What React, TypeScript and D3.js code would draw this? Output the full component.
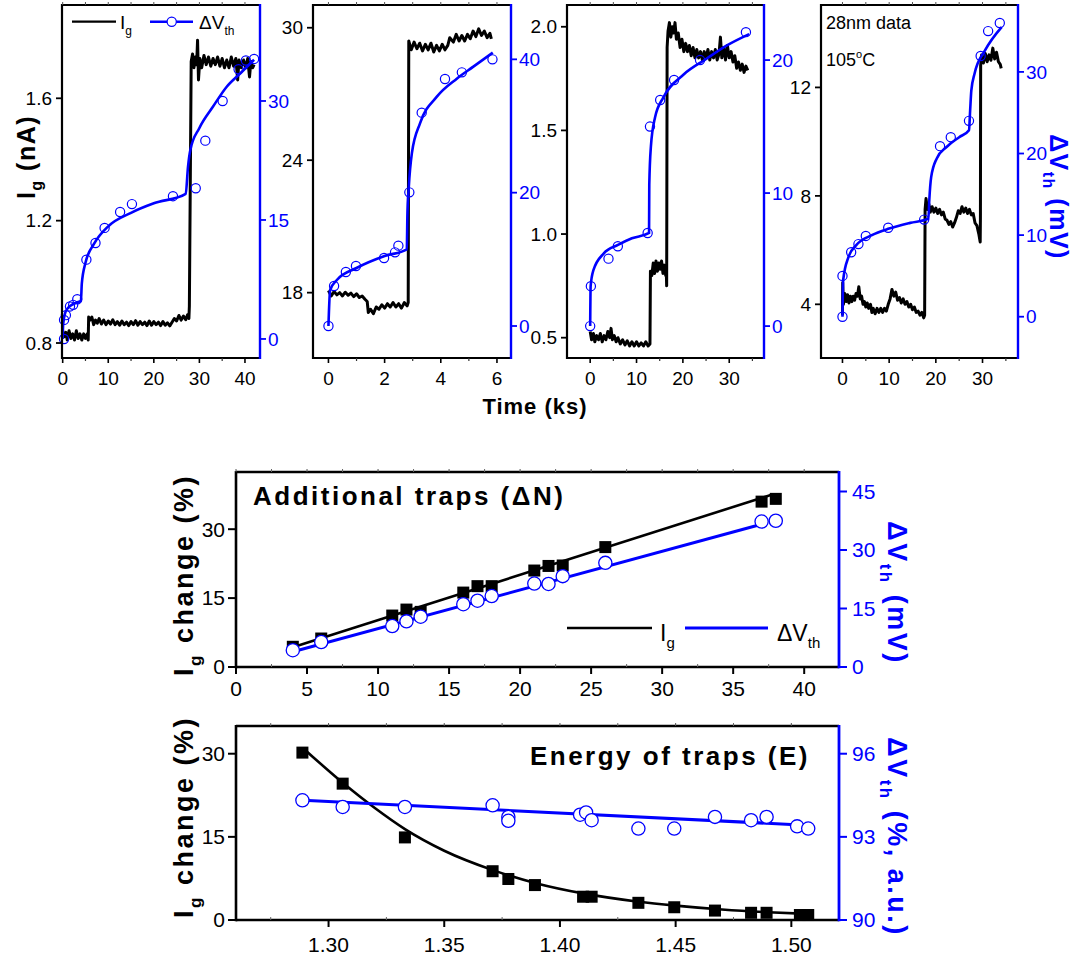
import React from "react";
import * as d3 from "d3";

type P = [number, number];

const FONT = "'Liberation Sans', Arial, Helvetica, sans-serif";
const BLUE = "#0000ff";

// ---------------- Top panels data ----------------
// Panel 1
const p1Ig: P[] = [
  [0, 0.84], [0.3, 0.82], [0.7, 0.835], [1.0, 0.81], [1.4, 0.84], [1.8, 0.815], [2.2, 0.83], [2.6, 0.81], [3.0, 0.84],
  [3.4, 0.815], [3.8, 0.83], [4.2, 0.81], [4.6, 0.83], [5.0, 0.815], [5.4, 0.83], [5.6, 0.81], [5.7, 0.885], [6.0, 0.875],
  [6.4, 0.885], [6.8, 0.86], [7.2, 0.875], [7.6, 0.865], [8.0, 0.88], [8.5, 0.862], [9.0, 0.875], [9.5, 0.86], [10, 0.872],
  [10.5, 0.862], [11, 0.876], [11.5, 0.86], [12, 0.87], [12.5, 0.858], [13, 0.872], [13.5, 0.86], [14, 0.868], [14.5, 0.857],
  [15, 0.87], [15.5, 0.86], [16, 0.873], [16.5, 0.858], [17, 0.87], [17.5, 0.86], [18, 0.868], [18.5, 0.857], [19, 0.872],
  [19.5, 0.858], [20, 0.87], [20.5, 0.86], [21, 0.868], [21.5, 0.857], [22, 0.87], [22.5, 0.858], [23, 0.866], [23.5, 0.856],
  [24, 0.868], [24.5, 0.88], [25, 0.872], [25.5, 0.89], [26, 0.875], [26.5, 0.888], [27, 0.876], [27.4, 0.892], [27.7, 0.88],
  [27.8, 0.92], [28.2, 1.72], [28.5, 1.745], [28.8, 1.7], [29.1, 1.735], [29.4, 1.71], [29.6, 1.79], [29.8, 1.66], [30.1, 1.73],
  [30.5, 1.7], [31, 1.74], [31.5, 1.71], [32, 1.735], [32.5, 1.705], [33, 1.73], [33.5, 1.71], [34, 1.735], [34.5, 1.705],
  [35, 1.73], [35.5, 1.7], [36, 1.725], [36.5, 1.7], [37, 1.735], [37.5, 1.705], [38, 1.73], [38.4, 1.66], [38.7, 1.725],
  [39.2, 1.7], [39.7, 1.725], [40.2, 1.7], [40.6, 1.73], [41, 1.67], [41.3, 1.72], [41.7, 1.7], [42, 1.71],
];
const p1VthFit: P[] = [
  [0, 0], [0.1, 1.8], [0.5, 3.2], [1, 3.8], [2, 4.3], [3, 4.6], [4, 4.8], [4.2, 7.0], [5, 9.6], [7, 12.1], [10, 14.2],
  [15, 15.9], [20, 17.1], [27, 18.3], [27.5, 21.7], [28, 23.8], [30, 26.6], [33, 29.3], [36, 31.8], [39, 33.5], [42, 35.2],
];
const p1VthPts: P[] = [
  [0.3, 0], [0.3, 2.4], [0.7, 3.0], [1.6, 4.1], [2.3, 4.3], [3.2, 5.0], [5.2, 10.0], [7.2, 12.1], [9.2, 14.0], [12.6, 16.0],
  [15.2, 17.0], [24.2, 18.0], [29.2, 19.0], [31.3, 25.0], [35.1, 30.0], [38.6, 34.0], [40.2, 35.1], [42.0, 35.3],
];
const p1TimeTicks = [0, 10, 20, 30, 40];
const p1TimeMinor = [5, 15, 25, 35];
const p1IgTicks = [0.8, 1.2, 1.6];
const p1VthTicks = [0, 15, 30];

// Panel 2
const p2Ig: P[] = [
  [0, 18.1], [0.1, 17.85], [0.2, 18.05], [0.3, 17.9], [0.4, 18.0], [0.5, 17.85], [0.6, 18.02], [0.7, 17.88], [0.8, 17.98],
  [0.9, 17.82], [1.0, 17.95], [1.1, 17.78], [1.2, 17.85], [1.3, 17.7], [1.38, 17.6], [1.42, 17.1], [1.5, 17.25], [1.6, 17.05],
  [1.7, 17.35], [1.8, 17.25], [1.9, 17.45], [2.0, 17.3], [2.1, 17.5], [2.2, 17.35], [2.3, 17.55], [2.4, 17.35], [2.5, 17.5],
  [2.6, 17.3], [2.7, 17.55], [2.8, 17.4], [2.84, 17.55], [2.86, 29.4], [2.95, 29.0], [3.05, 29.35], [3.15, 29.05], [3.25, 29.3],
  [3.35, 28.95], [3.45, 29.25], [3.55, 29.0], [3.65, 29.3], [3.75, 28.9], [3.85, 29.2], [3.95, 28.95], [4.05, 29.25],
  [4.15, 29.0], [4.25, 29.2], [4.32, 29.55], [4.45, 29.35], [4.55, 29.7], [4.65, 29.4], [4.75, 29.65], [4.85, 29.4],
  [4.95, 29.7], [5.05, 29.5], [5.15, 29.85], [5.25, 29.6], [5.35, 29.95], [5.45, 29.65], [5.55, 29.85], [5.65, 29.55],
  [5.75, 29.75], [5.8, 29.5],
];
const p2VthFit: P[] = [
  [0, 0], [0.06, 5.4], [0.3, 6.9], [1, 8.7], [2, 10.5], [2.79, 11.5], [2.81, 16.4], [2.86, 20.8], [2.97, 25.9], [3.26, 30.4],
  [3.86, 34.4], [4.57, 37.1], [5.16, 38.9], [5.85, 41.0],
];
const p2VthPts: P[] = [
  [0, 0], [0.2, 6.0], [0.62, 8.1], [0.98, 9.0], [1.98, 10.2], [2.37, 11.05], [2.49, 12.05], [2.88, 20.05], [3.32, 32.0],
  [4.15, 37.05], [4.75, 38.05], [5.84, 40.0],
];
const p2TimeTicks = [0, 2, 4, 6];
const p2TimeMinor = [1, 3, 5];
const p2IgTicks = [18, 24, 30];
const p2VthTicks = [0, 20, 40];

// Panel 3
const p3Ig: P[] = [
  [0, 0.53], [0.3, 0.49], [0.7, 0.52], [1.0, 0.48], [1.4, 0.51], [1.8, 0.49], [2.2, 0.52], [2.6, 0.48], [3.0, 0.51], [3.4, 0.49],
  [3.8, 0.53], [4.2, 0.5], [4.5, 0.545], [4.8, 0.49], [5.2, 0.51], [5.6, 0.48], [6.0, 0.5], [6.5, 0.47], [7.0, 0.49],
  [7.5, 0.465], [8.0, 0.485], [8.5, 0.46], [9.0, 0.48], [9.5, 0.46], [10, 0.48], [10.5, 0.46], [11, 0.475], [11.5, 0.46],
  [12, 0.48], [12.5, 0.46], [12.9, 0.47], [13.0, 0.82], [13.3, 0.8], [13.6, 0.86], [13.9, 0.81], [14.2, 0.87], [14.5, 0.82],
  [14.8, 0.86], [15.1, 0.83], [15.4, 0.87], [15.7, 0.81], [16.0, 0.85], [16.3, 0.8], [16.4, 0.84], [16.5, 0.75], [16.6, 1.9],
  [16.8, 1.98], [17.1, 2.02], [17.4, 1.95], [17.7, 2.0], [18.0, 1.97], [18.3, 2.02], [18.6, 1.94], [19.0, 1.97], [19.4, 1.9],
  [19.8, 1.94], [20.2, 1.88], [20.6, 1.92], [21.0, 1.88], [21.4, 1.91], [21.8, 1.86], [22.2, 1.9], [22.6, 1.85], [23.0, 1.89],
  [23.4, 1.85], [23.8, 1.88], [24.2, 1.84], [24.6, 1.88], [25.0, 1.85], [25.4, 1.89], [25.8, 1.84], [26.2, 1.88], [26.6, 1.85],
  [27.0, 1.89], [27.4, 1.84], [27.8, 1.87], [28.1, 1.95], [28.4, 1.85], [28.8, 1.9], [29.2, 1.84], [29.6, 1.91], [30.0, 1.85],
  [30.4, 1.88], [30.8, 1.83], [31.2, 1.86], [31.6, 1.8], [32.0, 1.83], [32.4, 1.79], [32.8, 1.82], [33.2, 1.78], [33.6, 1.81],
  [34.0, 1.79],
];
const p3VthFit: P[] = [
  [0, 0], [0.1, 3.0], [0.7, 4.2], [2.9, 5.45], [6, 6.1], [9, 6.6], [12.7, 7.0], [12.75, 10.6], [13.1, 13.5], [14.0, 15.7],
  [15.8, 17.2], [20.1, 18.9], [25.1, 20.1], [29.5, 21.1], [34.3, 21.95],
];
const p3VthPts: P[] = [
  [0, 0], [0.15, 3.0], [3.95, 5.07], [5.97, 6.0], [12.4, 7.0], [12.9, 15.0], [15.1, 17.0], [18.1, 18.5], [23.7, 20.0], [33.6, 22.1],
];
const p3TimeTicks = [0, 10, 20, 30];
const p3TimeMinor = [5, 15, 25, 35];
const p3IgTicks = [0.5, 1.0, 1.5, 2.0];
const p3VthTicks = [0, 10, 20];

// Panel 4
const p4Ig: P[] = [
  [0, 3.6], [0.05, 4.8], [0.2, 4.0], [0.5, 4.4], [0.8, 4.1], [1.1, 4.35], [1.4, 4.05], [1.7, 4.3], [2.0, 4.1], [2.3, 4.3],
  [2.6, 4.15], [2.9, 4.4], [3.2, 4.3], [3.5, 4.65], [3.8, 4.2], [4.1, 4.3], [4.4, 4.0], [4.7, 4.1], [5.0, 3.9], [5.3, 4.05],
  [5.6, 3.85], [6.0, 4.0], [6.3, 3.7], [6.6, 3.85], [7.0, 3.65], [7.4, 3.85], [7.8, 3.7], [8.2, 3.85], [8.6, 3.7], [9.0, 3.85],
  [9.4, 3.75], [9.8, 4.0], [10.2, 4.2], [10.6, 4.55], [11.0, 4.3], [11.4, 4.45], [11.8, 4.15], [12.2, 4.25], [12.6, 4.05],
  [13.0, 4.2], [13.4, 4.0], [13.8, 4.1], [14.2, 3.9], [14.6, 4.0], [15.0, 3.8], [15.4, 3.9], [15.8, 3.7], [16.2, 3.75],
  [16.6, 3.6], [17.0, 3.7], [17.4, 3.5], [17.6, 3.6], [17.7, 7.5], [17.9, 7.9], [18.2, 7.5], [18.5, 7.7], [18.8, 7.4],
  [19.2, 7.6], [19.6, 7.4], [20.0, 7.55], [20.4, 7.35], [20.8, 7.5], [21.2, 7.3], [21.6, 7.4], [22.0, 7.15], [22.4, 7.1],
  [22.8, 6.95], [23.2, 7.05], [23.6, 6.85], [24.0, 7.0], [24.4, 7.2], [24.8, 7.45], [25.2, 7.35], [25.6, 7.6], [26.0, 7.4],
  [26.4, 7.55], [26.8, 7.35], [27.2, 7.5], [27.6, 7.3], [28.0, 7.35], [28.4, 7.0], [28.8, 6.9], [29.2, 6.6], [29.5, 6.3],
  [29.55, 7.2], [29.6, 12.8], [29.8, 13.2], [30.2, 12.9], [30.6, 13.25], [31.0, 12.95], [31.4, 13.2], [31.8, 13.0],
  [32.2, 13.45], [32.6, 13.05], [33.0, 13.3], [33.4, 12.95], [33.8, 12.85], [34.0, 12.7],
];
const p4VthFit: P[] = [
  [0, 0], [0.15, 4.5], [1.28, 7.3], [3, 8.8], [6.3, 10.0], [10, 10.8], [14.5, 11.5], [18.4, 12.0], [18.6, 14.3], [19.0, 17.1],
  [20.2, 19.4], [22.3, 20.8], [25, 22.0], [27.1, 22.85], [27.35, 25.3], [27.6, 27.7], [28.3, 29.8], [30.5, 32.6], [34.1, 35.5],
];
const p4VthPts: P[] = [
  [0, 0], [0, 5.0], [1.86, 7.9], [3.42, 8.9], [5.0, 9.9], [9.8, 10.9], [17.5, 11.9], [20.9, 20.9], [23.2, 22.0], [27.1, 24.0],
  [29.6, 31.95], [31.2, 35.0], [33.7, 36.0],
];
const p4TimeTicks = [0, 10, 20, 30];
const p4TimeMinor = [5, 15, 25, 35];
const p4IgTicks = [4, 8, 12];
const p4VthTicks = [0, 10, 20, 30];

// ---------------- Middle panel (Additional traps) ----------------
const dN = [4, 6, 11, 12, 13, 16, 17, 18, 21, 22, 23, 26, 37, 38];
const dNIg = [4.4, 6.2, 11.2, 12.5, 12.0, 16.2, 17.6, 17.6, 21.0, 22.0, 22.1, 26.1, 36.0, 36.6];
const dNVth = [4.3, 6.4, 10.5, 11.7, 12.9, 16.1, 17.0, 18.2, 21.4, 21.3, 23.3, 26.7, 37.3, 37.5];
const dNIgFit: P[] = [[4, 4.3], [37.8, 37.6]];
const dNVthFit: P[] = [[4, 3.9], [37, 36.6]];
const dNTicks = [0, 5, 10, 15, 20, 25, 30, 35, 40];
const dNMinor = [2.5, 7.5, 12.5, 17.5, 22.5, 27.5, 32.5, 37.5];
const dNIgTicks = [0, 15, 30];
const dNVthTicks = [0, 15, 30, 45];

// ---------------- Bottom panel (Energy of traps) ----------------
const eIgE = [1.2887, 1.3061, 1.333, 1.3709, 1.3777, 1.3892, 1.41, 1.4137, 1.4339, 1.4494, 1.467, 1.4826, 1.4893, 1.5037, 1.5073];
const eIg = [30.2, 24.6, 14.9, 8.8, 7.4, 6.3, 4.2, 4.2, 3.1, 2.3, 1.7, 1.3, 1.3, 0.9, 0.9];
const eVthE = [1.2887, 1.3061, 1.333, 1.3709, 1.3777, 1.3777, 1.4087, 1.4113, 1.4137, 1.4339, 1.4494, 1.467, 1.4826, 1.4893, 1.5025, 1.5073];
const eVth = [94.32, 94.08, 94.08, 94.14, 93.72, 93.58, 93.8, 93.88, 93.6, 93.3, 93.3, 93.72, 93.6, 93.72, 93.38, 93.3];
const eIgFit: P[] = [
  [1.289, 31.0], [1.306, 24.8], [1.32, 20.2], [1.333, 16.4], [1.35, 12.5], [1.371, 9.0], [1.39, 6.6], [1.41, 4.8],
  [1.434, 3.3], [1.45, 2.6], [1.47, 1.9], [1.49, 1.4], [1.507, 1.1],
];
const eVthFit: P[] = [[1.289, 94.32], [1.504, 93.43]];
const eTicks = [1.3, 1.35, 1.4, 1.45, 1.5];
const eMinor = [1.275, 1.325, 1.375, 1.425, 1.475, 1.525];
const eIgTicks = [0, 15, 30];
const eVthTicks = [90, 93, 96];

// ---------------- Components ----------------
type TopProps = {
  x0: number; x1: number; y0: number; y1: number;
  xDom: [number, number]; yDom: [number, number]; rDom: [number, number];
  xTicks: number[]; xMinor: number[]; yTicks: number[]; rTicks: number[];
  yFmt: (v: number) => string;
  trace: P[]; fit: P[]; pts: P[];
};

function TopPanel(p: TopProps) {
  const x = d3.scaleLinear().domain(p.xDom).range([p.x0, p.x1]);
  const y = d3.scaleLinear().domain(p.yDom).range([p.y1, p.y0]);
  const r = d3.scaleLinear().domain(p.rDom).range([p.y1, p.y0]);
  const traceLine = d3.line<P>().x((d) => x(d[0])).y((d) => y(d[1]));
  const fitLine = d3.line<P>().x((d) => x(d[0])).y((d) => r(d[1])).curve(d3.curveMonotoneX);
  return (
    <g>
      <path d={traceLine(p.trace) || ""} fill="none" stroke="#000" strokeWidth={3} strokeLinejoin="round" />
      <path d={fitLine(p.fit) || ""} fill="none" stroke={BLUE} strokeWidth={2.6} />
      {p.pts.map((d, i) => (
        <circle key={i} cx={x(d[0])} cy={r(d[1])} r={4.6} fill="none" stroke={BLUE} strokeWidth={1.2} />
      ))}
      <line x1={p.x0} x2={p.x1} y1={p.y0} y2={p.y0} stroke="#000" strokeWidth={2} />
      <line x1={p.x0} x2={p.x1 + 1} y1={p.y1} y2={p.y1} stroke="#000" strokeWidth={2.2} />
      <line x1={p.x0} x2={p.x0} y1={p.y0 - 1} y2={p.y1 + 1} stroke="#000" strokeWidth={2.2} />
      <line x1={p.x1} x2={p.x1} y1={p.y0 - 1} y2={p.y1 + 1} stroke={BLUE} strokeWidth={2.4} />
      {p.xTicks.map((t) => (
        <g key={"xt" + t}>
          <line x1={x(t)} x2={x(t)} y1={p.y1} y2={p.y1 + 5} stroke="#000" strokeWidth={1.6} />
          <line x1={x(t)} x2={x(t)} y1={p.y0} y2={p.y0 - 3} stroke="#555" strokeWidth={1} />
          <text x={x(t)} y={p.y1 + 27} textAnchor="middle" fontSize={19}>{t}</text>
        </g>
      ))}
      {p.xMinor.filter((t) => x(t) < p.x1 - 2).map((t) => (
        <g key={"xm" + t}>
          <line x1={x(t)} x2={x(t)} y1={p.y1} y2={p.y1 + 3} stroke="#333" strokeWidth={1.2} />
          <line x1={x(t)} x2={x(t)} y1={p.y0} y2={p.y0 - 3} stroke="#555" strokeWidth={1} />
        </g>
      ))}
      {p.yTicks.map((t) => (
        <g key={"yt" + t}>
          <line x1={p.x0 - 6} x2={p.x0} y1={y(t)} y2={y(t)} stroke="#000" strokeWidth={1.8} />
          <text x={p.x0 - 10} y={y(t)} dy="0.35em" textAnchor="end" fontSize={19}>{p.yFmt(t)}</text>
        </g>
      ))}
      {p.rTicks.map((t) => (
        <g key={"rt" + t}>
          <line x1={p.x1} x2={p.x1 + 6} y1={r(t)} y2={r(t)} stroke={BLUE} strokeWidth={1.8} />
          <text x={p.x1 + 8} y={r(t)} dy="0.35em" textAnchor="start" fontSize={19} fill={BLUE}>{t}</text>
        </g>
      ))}
    </g>
  );
}

type BotProps = {
  x0: number; x1: number; y0: number; y1: number;
  xDom: [number, number]; yDom: [number, number]; rDom: [number, number];
  xTicks: number[]; xMinor: number[]; yTicks: number[]; rTicks: number[];
  xFmt: (v: number) => string; xLabelDy: number;
  sqX: number[]; sqY: number[]; ciX: number[]; ciY: number[];
  sqFit: P[]; ciFit: P[]; curved: boolean;
};

function BotPanel(p: BotProps) {
  const x = d3.scaleLinear().domain(p.xDom).range([p.x0, p.x1]);
  const y = d3.scaleLinear().domain(p.yDom).range([p.y1, p.y0]);
  const r = d3.scaleLinear().domain(p.rDom).range([p.y1, p.y0]);
  const l1 = d3.line<P>().x((d) => x(d[0])).y((d) => y(d[1])).curve(p.curved ? d3.curveMonotoneX : d3.curveLinear);
  const l2 = d3.line<P>().x((d) => x(d[0])).y((d) => r(d[1]));
  const s = 12;
  return (
    <g>
      <path d={l1(p.sqFit) || ""} fill="none" stroke="#000" strokeWidth={2.6} />
      <path d={l2(p.ciFit) || ""} fill="none" stroke={BLUE} strokeWidth={3} />
      {p.sqX.map((v, i) => (
        <rect key={"s" + i} x={x(v) - s / 2} y={y(p.sqY[i]) - s / 2} width={s} height={s} fill="#000" />
      ))}
      {p.ciX.map((v, i) => (
        <circle key={"c" + i} cx={x(v)} cy={r(p.ciY[i])} r={6.6} fill="#fff" stroke={BLUE} strokeWidth={1.3} />
      ))}
      <line x1={p.x0} x2={p.x1} y1={p.y0} y2={p.y0} stroke="#000" strokeWidth={2.4} />
      <line x1={p.x0} x2={p.x1} y1={p.y1} y2={p.y1} stroke="#000" strokeWidth={2.6} />
      <line x1={p.x0} x2={p.x0} y1={p.y0 - 1} y2={p.y1 + 1.3} stroke="#000" strokeWidth={2.6} />
      <line x1={p.x1} x2={p.x1} y1={p.y0 - 1} y2={p.y1 + 1.3} stroke={BLUE} strokeWidth={2.8} />
      {p.xTicks.map((t) => (
        <g key={"xt" + t}>
          <line x1={x(t)} x2={x(t)} y1={p.y1} y2={p.y1 + 7} stroke="#000" strokeWidth={2} />
          <line x1={x(t)} x2={x(t)} y1={p.y0} y2={p.y0 - 3} stroke="#555" strokeWidth={1} />
          <text x={x(t)} y={p.y1 + p.xLabelDy} textAnchor="middle" fontSize={21}>{p.xFmt(t)}</text>
        </g>
      ))}
      {p.xMinor.filter((t) => x(t) > p.x0 + 2 && x(t) < p.x1 - 2).map((t) => (
        <g key={"xm" + t}>
          <line x1={x(t)} x2={x(t)} y1={p.y1} y2={p.y1 - 3} stroke="#666" strokeWidth={1} />
          <line x1={x(t)} x2={x(t)} y1={p.y0} y2={p.y0 - 3} stroke="#666" strokeWidth={1} />
        </g>
      ))}
      {p.yTicks.map((t) => (
        <g key={"yt" + t}>
          <line x1={p.x0 - 8} x2={p.x0} y1={y(t)} y2={y(t)} stroke="#000" strokeWidth={2} />
          <text x={p.x0 - 11} y={y(t)} dy="0.35em" textAnchor="end" fontSize={21}>{t}</text>
        </g>
      ))}
      {p.rTicks.map((t) => (
        <g key={"rt" + t}>
          <line x1={p.x1} x2={p.x1 + 8} y1={r(t)} y2={r(t)} stroke={BLUE} strokeWidth={2} />
          <text x={p.x1 + 13} y={r(t)} dy="0.35em" textAnchor="start" fontSize={21} fill={BLUE}>{t}</text>
        </g>
      ))}
    </g>
  );
}

const fmt1 = (v: number) => v.toFixed(1);
const fmtInt = (v: number) => String(v);
const fmt2 = (v: number) => v.toFixed(2);

export default function App() {
  const top = { y0: 5, y1: 358 };
  return (
    <svg
      width={1076}
      height={961}
      viewBox="0 0 1076 961"
      style={{ position: "absolute", left: 0, top: 0, background: "#fff" }}
      fontFamily={FONT}
    >
      <rect x={0} y={0} width={1076} height={961} fill="#fff" />
      <TopPanel x0={62} x1={260} {...top} xDom={[-0.15, 43.3]} yDom={[0.751, 1.905]} rDom={[-2.4, 42.1]}
        xTicks={p1TimeTicks} xMinor={p1TimeMinor} yTicks={p1IgTicks} rTicks={p1VthTicks} yFmt={fmt1}
        trace={p1Ig} fit={p1VthFit} pts={p1VthPts} />
      <TopPanel x0={313} x1={511} {...top} xDom={[-0.55, 6.5]} yDom={[15.04, 31.03]} rDom={[-4.8, 48.15]}
        xTicks={p2TimeTicks} xMinor={p2TimeMinor} yTicks={p2IgTicks} rTicks={p2VthTicks} yFmt={fmtInt}
        trace={p2Ig} fit={p2VthFit} pts={p2VthPts} />
      <TopPanel x0={567} x1={764} {...top} xDom={[-5.0, 37.5]} yDom={[0.402, 2.105]} rDom={[-2.4, 24.14]}
        xTicks={p3TimeTicks} xMinor={p3TimeMinor} yTicks={p3IgTicks} rTicks={p3VthTicks} yFmt={fmt1}
        trace={p3Ig} fit={p3VthFit} pts={p3VthPts} />
      <TopPanel x0={821} x1={1018} {...top} xDom={[-4.6, 37.6]} yDom={[2.02, 15.04]} rDom={[-5.06, 38.2]}
        xTicks={p4TimeTicks} xMinor={p4TimeMinor} yTicks={p4IgTicks} rTicks={p4VthTicks} yFmt={fmtInt}
        trace={p4Ig} fit={p4VthFit} pts={p4VthPts} />

      {/* panel 1 legend */}
      <line x1={72} x2={116} y1={21.7} y2={21.7} stroke="#000" strokeWidth={2.2} />
      <text x={120} y={29} fontSize={19}>I<tspan fontSize={12} dy={6}>g</tspan></text>
      <line x1={150} x2={193} y1={21.7} y2={21.7} stroke={BLUE} strokeWidth={2.4} />
      <circle cx={171.7} cy={21.7} r={4.6} fill="#fff" stroke={BLUE} strokeWidth={1.2} />
      <text x={199} y={29} fontSize={19}>ΔV<tspan fontSize={12} dy={6}>th</tspan></text>

      {/* panel 4 annotations */}
      <text x={826} y={29} fontSize={18}>28nm data</text>
      <text x={826} y={66} fontSize={18}>105<tspan fontSize={11} dy={-8}>o</tspan><tspan dy={8}>C</tspan></text>

      {/* top axis titles */}
      <text transform="translate(35,157) rotate(-90)" textAnchor="middle" fontSize={25} fontWeight="bold" letterSpacing={1.5}>
        I<tspan fontSize={16} dy={7}>g</tspan><tspan dy={-7}> (nA)</tspan>
      </text>
      <text x={535} y={414} textAnchor="middle" fontSize={22} fontWeight="bold" letterSpacing={1}>Time (ks)</text>
      <text transform="translate(1050,197) rotate(90)" textAnchor="middle" fontSize={25} fontWeight="bold" letterSpacing={1.5} fill={BLUE}>
        ΔV<tspan fontSize={16} dy={7}>th</tspan><tspan dy={-7}> (mV)</tspan>
      </text>

      {/* middle panel */}
      <BotPanel x0={236} x1={839} y0={472} y1={667} xDom={[0, 42.45]} yDom={[0, 42.45]} rDom={[0, 50]}
        xTicks={dNTicks} xMinor={dNMinor} yTicks={dNIgTicks} rTicks={dNVthTicks} xFmt={fmtInt} xLabelDy={29}
        sqX={dN} sqY={dNIg} ciX={dN} ciY={dNVth} sqFit={dNIgFit} ciFit={dNVthFit} curved={false} />
      <text x={253} y={505} fontSize={26} fontWeight="bold" letterSpacing={2.5}>Additional traps (ΔN)</text>
      <line x1={567} x2={652} y1={628} y2={628} stroke="#000" strokeWidth={2.6} />
      <text x={660} y={641} fontSize={23}>I<tspan fontSize={15} dy={7}>g</tspan></text>
      <line x1={685} x2={768} y1={628} y2={628} stroke={BLUE} strokeWidth={3} />
      <text x={777} y={641} fontSize={23}>ΔV<tspan fontSize={15} dy={7}>th</tspan></text>
      <text transform="translate(193,575) rotate(-90)" textAnchor="middle" fontSize={27} fontWeight="bold" letterSpacing={2.5}>
        I<tspan fontSize={17} dy={8}>g</tspan><tspan dy={-8}> change (%)</tspan>
      </text>
      <text transform="translate(888,593) rotate(90)" textAnchor="middle" fontSize={27} fontWeight="bold" letterSpacing={2.5} fill={BLUE}>
        ΔV<tspan fontSize={17} dy={8}>th</tspan><tspan dy={-8}> (mV)</tspan>
      </text>

      {/* bottom panel */}
      <BotPanel x0={236} x1={839} y0={726} y1={920} xDom={[1.26, 1.5206]} yDom={[0, 35]} rDom={[90, 97]}
        xTicks={eTicks} xMinor={eMinor} yTicks={eIgTicks} rTicks={eVthTicks} xFmt={fmt2} xLabelDy={32}
        sqX={eIgE} sqY={eIg} ciX={eVthE} ciY={eVth} sqFit={eIgFit} ciFit={eVthFit} curved={true} />
      <text x={810} y={765} textAnchor="end" fontSize={26} fontWeight="bold" letterSpacing={2.5}>Energy of traps (E)</text>
      <text transform="translate(193,817) rotate(-90)" textAnchor="middle" fontSize={27} fontWeight="bold" letterSpacing={2.5}>
        I<tspan fontSize={17} dy={8}>g</tspan><tspan dy={-8}> change (%)</tspan>
      </text>
      <text transform="translate(888,837) rotate(90)" textAnchor="middle" fontSize={27} fontWeight="bold" letterSpacing={2.5} fill={BLUE}>
        ΔV<tspan fontSize={17} dy={8}>th</tspan><tspan dy={-8}> (%, a.u.)</tspan>
      </text>
    </svg>
  );
}
